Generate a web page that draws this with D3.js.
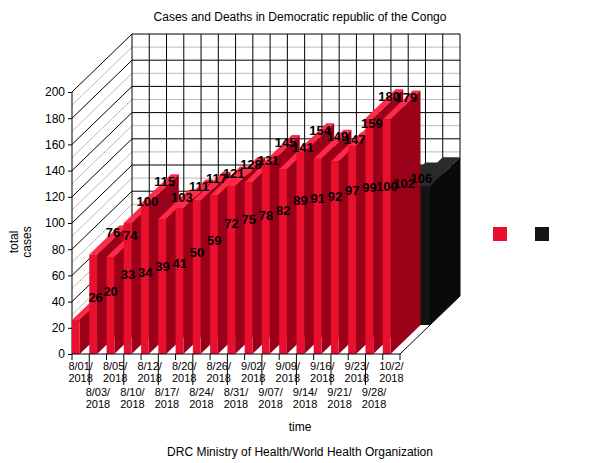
<!DOCTYPE html>
<html><head><meta charset="utf-8">
<script src="https://cdn.jsdelivr.net/npm/d3@7"></script>
<style>body{margin:0;background:#fff}text{font-family:"Liberation Sans",Arial,sans-serif}</style>
</head><body>
<script>
var dates = ["8/01/2018","8/03/2018","8/05/2018","8/10/2018","8/12/2018","8/17/2018","8/20/2018","8/24/2018","8/26/2018","8/31/2018","9/02/2018","9/07/2018","9/09/2018","9/14/2018","9/16/2018","9/21/2018","9/23/2018","9/28/2018","10/2/2018"];
var cases = [26,76,74,100,115,103,111,117,121,128,131,145,141,154,149,147,159,180,179];
var deaths = [20,33,34,39,41,50,59,72,75,78,82,89,91,92,97,99,100,102,106];
var yTicks = [0,20,40,60,80,100,120,140,160,180,200];

var svg = d3.select("body").append("svg").attr("width",600).attr("height",463);
var x0 = 72, x1 = 400, dx = 60, dy = -58;
var x = d3.scaleBand().domain(dates).range([x0,x1]);
var y = d3.scaleLinear().domain([0,200]).range([354,92]);
function P(px,py,z){ return [px+z*dx, py+z*dy]; }
function poly(pts,fill,stroke){
  svg.append("polygon").attr("points",pts.map(function(p){return p.join(",");}).join(" "))
    .attr("fill",fill).attr("stroke",stroke||"none").attr("stroke-width",0.5);
}
function line(a,b,c,w){ svg.append("line").attr("x1",a[0]).attr("y1",a[1]).attr("x2",b[0]).attr("y2",b[1]).attr("stroke",c).attr("stroke-width",w||1); }
function box(xa,xb,z0,z1,v,cTop,cSide,cFront){
  var t = y(v), b = y(0);
  poly([P(xa,t,z0),P(xb,t,z0),P(xb,t,z1),P(xa,t,z1)],cTop);
  poly([P(xb,b,z0),P(xb,b,z1),P(xb,t,z1),P(xb,t,z0)],cSide);
  poly([P(xa,b,z0),P(xb,b,z0),P(xb,t,z0),P(xa,t,z0)],cFront);
}

svg.append("text").attr("x",300).attr("y",21).attr("text-anchor","middle").attr("font-size",12).text("Cases and Deaths in Democratic republic of the Congo");

// walls
poly([P(x0,y(0),1),P(x1,y(0),1),P(x1,y(200),1),P(x0,y(200),1)],"#fff");
d3.range(0,201,10).forEach(function(v){
  var c = v%20===0 ? "#000" : "#bbb";
  line(P(x0,y(v),1),P(x1,y(v),1),c);
  line(P(x0,y(v),0),P(x0,y(v),1),c);
});
dates.forEach(function(d){ line(P(x(d),y(0),1),P(x(d),y(200),1),"#000"); });
line(P(x0,y(0),0),P(x0,y(200),0),"#000");
line(P(x1,y(0),1),P(x1,y(200),1),"#000");
line(P(x1,y(0),0),P(x1,y(0),1),"#000");

var bw = x.bandwidth();
// deaths: back row, full band width
dates.forEach(function(d,i){
  box(x(d), x(d)+bw, 0.5, 1, deaths[i], "#2a2a2a", "#0a0a0a", "#141414");
});
// cases: front row, narrow slabs
dates.forEach(function(d,i){
  box(x(d), x(d)+bw*0.45, 0, 0.5, cases[i], "#ff2a48", "#9a0018", "#e8102e");
});
dates.forEach(function(d,i){
  var p = P(x(d)+bw*0.5,y(deaths[i])-3,0.5);
  svg.append("text").attr("x",p[0]).attr("y",p[1]).attr("text-anchor","middle").attr("font-size",13).attr("font-weight","bold").text(deaths[i]);
  var q = P(x(d)+bw*0.5,y(cases[i])-3,0.25);
  svg.append("text").attr("x",q[0]).attr("y",q[1]).attr("text-anchor","middle").attr("font-size",13).attr("font-weight","bold").text(cases[i]);
});
line(P(x0,y(0),0),P(x1,y(0),0),"#000");

// axes
var ya = svg.append("g").attr("transform","translate("+x0+",0)").call(d3.axisLeft(y).tickValues(yTicks).tickSize(4).tickSizeOuter(0));
ya.selectAll("text").attr("font-size",12).attr("fill","#000").attr("font-family","Liberation Sans, Arial");
ya.select(".domain").remove();
dates.forEach(function(d,i){
  var xx = x(d);
  var row = i%2;
  line([xx,354],[xx,row?385:360],"#000");
  var parts = d.split("/");
  var t = svg.append("text").attr("x",xx+bw/2).attr("y",row?396:370).attr("text-anchor","middle").attr("font-size",11);
  t.append("tspan").attr("x",xx+bw/2).text(parts[0]+"/"+parts[1]+"/");
  t.append("tspan").attr("x",xx+bw/2).attr("dy",12).text(parts[2]);
});
line([x1,354],[x1,360],"#000");

svg.append("text").attr("x",300).attr("y",431).attr("text-anchor","middle").attr("font-size",12).text("time");
svg.append("text").attr("x",300).attr("y",456).attr("text-anchor","middle").attr("font-size",12).text("DRC Ministry of Health/World Health Organization");
var yl = svg.append("text").attr("transform","translate(18,242) rotate(-90)").attr("text-anchor","middle").attr("font-size",12);
yl.append("tspan").attr("x",0).text("total");
yl.append("tspan").attr("x",0).attr("dy",13).text("cases");

svg.append("rect").attr("x",493).attr("y",227).attr("width",14).attr("height",14).attr("fill","#e8102e");
svg.append("rect").attr("x",535).attr("y",227).attr("width",14).attr("height",14).attr("fill","#151515");
</script>
</body></html>
